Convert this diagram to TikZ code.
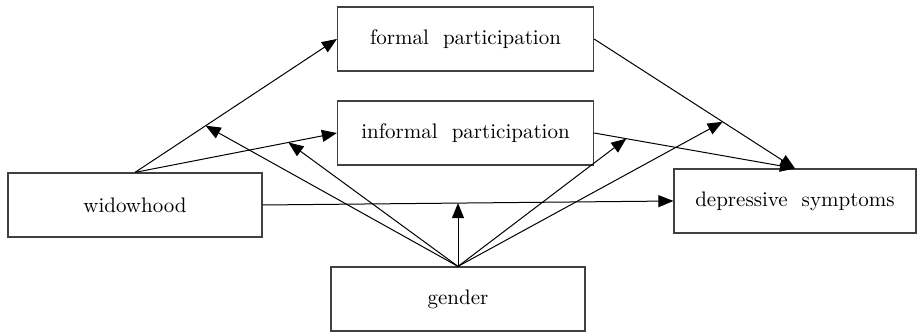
\documentclass[tikz,border=0pt]{standalone}
\usetikzlibrary{arrows.meta}
\tikzset{
  box/.style={draw=black!75, line width=0.6pt, minimum width=128pt, minimum height=32pt, inner sep=0pt, font=\fontsize{10.5}{12}\selectfont},
  path/.style={line width=0.5pt, -{Triangle[length=7.5pt,width=6pt]}}
}
\begin{document}
\begin{tikzpicture}[x=0.5pt,y=-0.5pt]
\useasboundingbox (0,0) rectangle (917,335);
% variables
\node[box] (formal) at (465.5,39) {formal\ \ participation};
\node[box] (informal) at (465.5,133) {informal\ \ participation};
\node[box, minimum width=127pt] (widow) at (135,205) {widowhood};
\node[box, minimum width=121pt] (depr) at (795,201) {depressive\ \ symptoms};
\node[box, minimum width=127pt] (gender) at (458,299) {gender};
% main paths
\draw[path] (widow.north) -- coordinate[pos=0.35] (m1) (formal.west);
\draw[path] (widow.north) -- coordinate[pos=0.76] (m2) (informal.west);
\draw[path] (widow.east) -- coordinate[pos=0.47] (m3) (depr.west);
\draw[path] (formal.east) -- coordinate[pos=0.64] (m5) (depr.north);
\draw[path] (informal.east) -- coordinate[pos=0.16] (m4) (depr.north);
% moderation by gender
\draw[path] (gender.north) -- (m1);
\draw[path] (gender.north) -- (m2);
\draw[path] (gender.north) -- (gender.north |- m3);
\draw[path] (gender.north) -- (m4);
\draw[path] (gender.north) -- (m5);
\end{tikzpicture}
\end{document}
